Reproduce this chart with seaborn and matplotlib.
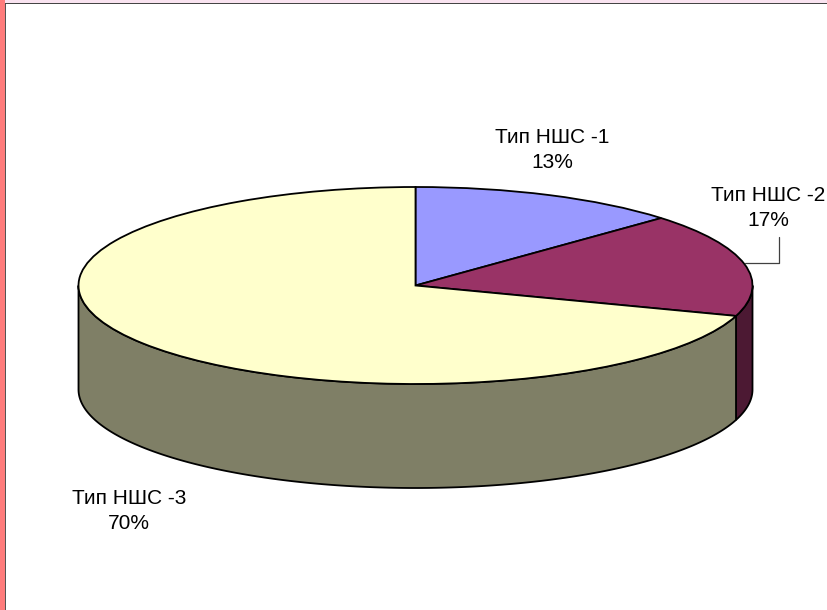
import matplotlib
matplotlib.use("Agg")
import matplotlib.pyplot as plt
from matplotlib.patches import Rectangle
import numpy as np
import seaborn as sns

# data
categories = ["Тип НШС -1", "Тип НШС -2", "Тип НШС -3"]
shares = [13, 17, 70]
top_colors = ["#9999FF", "#993366", "#FFFFCC"]
side_colors = ["#4C4C7F", "#4C1933", "#7F7F66"]

sns.set_theme(style="white")
plt.rcParams["font.family"] = ["Liberation Sans Narrow", "Liberation Sans", "DejaVu Sans"]

W, H = 827, 610
cx, cy = 415.5, 285.5      # pie centre in pixels
rx, ry = 337.0, 98.5       # ellipse semi-axes in pixels
depth = 104 / ry           # side height in data units


def px(x, y):
    # pixel position -> data coords
    return (x - cx) / rx, (cy - y) / ry


fig = plt.figure(figsize=(W / 100, H / 100), dpi=100)
ax = fig.add_axes([0, 0, 1, 1])

wedges, _ = ax.pie(shares, colors=top_colors, startangle=90, counterclock=False,
                   wedgeprops=dict(edgecolor="black", linewidth=1.3))
for w in wedges:
    w.set_zorder(3)

# side walls of the front half, built from the wedge angles
for w, sc in zip(wedges, side_colors):
    t1, t2 = w.theta1, w.theta2
    for shift in (-360, 0, 360):
        lo = max(t1, -180 + shift)
        hi = min(t2, 0 + shift)
        if hi <= lo:
            continue
        th = np.radians(np.linspace(lo, hi, 200))
        xs = np.concatenate([np.cos(th), np.cos(th[::-1])])
        ys = np.concatenate([np.sin(th), np.sin(th[::-1]) - depth])
        ax.fill(xs, ys, facecolor=sc, edgecolor="black", linewidth=1.3, zorder=2)

ax.set_aspect("auto")
x0, y0 = px(0, H)
x1, y1 = px(W, 0)
ax.set_xlim(x0, x1)
ax.set_ylim(y0, y1)
ax.axis("off")

# labels
fs = 15
label_pos = [(552, 150), (768, 208), (129, 511)]
for name, val, (lx, ly) in zip(categories, shares, label_pos):
    tx, ty = px(lx, ly)
    ax.text(tx, ty, f"{name}\n{val}%", ha="center", va="center",
            fontsize=fs, linespacing=1.4, color="black", zorder=5)

# leader line for the second label
lx_, ly_ = zip(px(745, 263), px(779, 263), px(779, 237))
ax.plot(lx_, ly_, color="#404040", linewidth=0.9, zorder=4)

# window frame strips
fig.patches.append(Rectangle((0, 1 - 3 / H), 1, 3 / H, transform=fig.transFigure,
                             facecolor="#F9E3F0", edgecolor="none", zorder=0))
fig.patches.append(Rectangle((0, 0), 5 / W, 1, transform=fig.transFigure,
                             facecolor="#FF7C7C", edgecolor="none", zorder=0))
fig.patches.append(Rectangle((5 / W, 0), 1.2 / W, 1 - 3 / H, transform=fig.transFigure,
                             facecolor="#555555", edgecolor="none", zorder=0))
fig.patches.append(Rectangle((5 / W, 1 - 4.2 / H), 1, 1.2 / H, transform=fig.transFigure,
                             facecolor="#444444", edgecolor="none", zorder=0))

fig.savefig("out.png", dpi=100)
